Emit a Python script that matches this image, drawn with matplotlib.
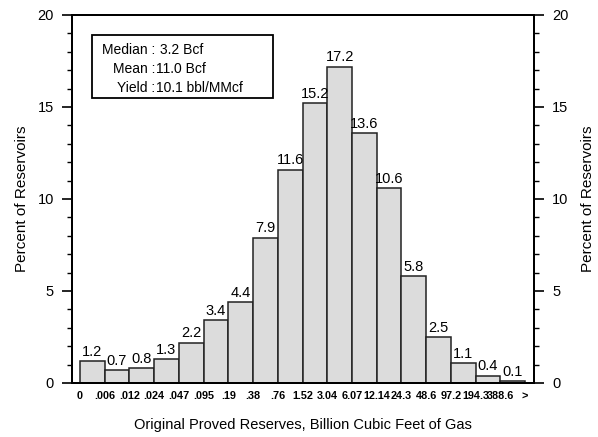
import matplotlib.pyplot as plt
from matplotlib.patches import Rectangle
from matplotlib.ticker import MultipleLocator
import numpy as np

plt.rcParams['font.family'] = ['Liberation Sans', 'DejaVu Sans']

# reservoir size class edges (Bcf) and percent of reservoirs per class
edges = ['0', '.006', '.012', '.024', '.047', '.095', '.19', '.38', '.76', '1.52',
         '3.04', '6.07', '12.14', '24.3', '48.6', '97.2', '194.3', '388.6', '>']
percent = [1.2, 0.7, 0.8, 1.3, 2.2, 3.4, 4.4, 7.9, 11.6, 15.2,
           17.2, 13.6, 10.6, 5.8, 2.5, 1.1, 0.4, 0.1]

stat_names = ['Median :', 'Mean :', 'Yield :']
stat_values = [' 3.2 Bcf', '11.0 Bcf', '10.1 bbl/MMcf']

fig = plt.figure(figsize=(5.98, 4.37), dpi=100)
ax = fig.add_axes([0.1204, 0.1236, 0.7726, 0.8421])

x = np.arange(len(percent))
ax.bar(x, percent, width=1.0, align='edge', color='#dcdcdc',
       edgecolor='#222222', linewidth=1.1)
for xi, p in zip(x, percent):
    ax.text(xi + 0.5, p + 0.12, f'{p:.1f}', ha='center', va='bottom', fontsize=10.5)

ax.set_xlim(-0.32, 18.36)
ax.set_ylim(0, 20)
ax.set_xticks(np.arange(len(edges)))
ax.set_xticklabels(edges, fontsize=7.8, fontweight='bold')
ax.tick_params(axis='x', length=0, pad=6)

ax.yaxis.set_major_locator(MultipleLocator(5))
ax.yaxis.set_minor_locator(MultipleLocator(1))
ax.tick_params(axis='y', which='major', length=7, width=1.2, labelsize=10.5, pad=6)
ax.tick_params(axis='y', which='minor', length=3.5, width=1.0)
ax.set_ylabel('Percent of Reservoirs', fontsize=11, labelpad=6)
ax.set_xlabel('Original Proved Reserves, Billion Cubic Feet of Gas', fontsize=10.5, labelpad=12)

for s in ax.spines.values():
    s.set_linewidth(1.4)

ax2 = ax.twinx()
ax2.set_ylim(0, 20)
ax2.yaxis.set_major_locator(MultipleLocator(5))
ax2.yaxis.set_minor_locator(MultipleLocator(1))
ax2.tick_params(axis='y', which='major', length=7, width=1.2, labelsize=10.5, pad=6)
ax2.tick_params(axis='y', which='minor', length=3.5, width=1.0)
ax2.set_ylabel('Percent of Reservoirs', fontsize=11, labelpad=9)
for s in ax2.spines.values():
    s.set_linewidth(1.4)

# summary statistics box
fig.add_artist(Rectangle((92 / 598, 1 - 98 / 437), 181 / 598, 63 / 437,
                         transform=fig.transFigure, fill=False,
                         edgecolor='black', linewidth=1.3))
for i, (n, v) in enumerate(zip(stat_names, stat_values)):
    yy = 1 - (50 + 19 * i) / 437
    fig.text(155 / 598, yy, n, ha='right', va='center', fontsize=10)
    fig.text(156 / 598, yy, v, ha='left', va='center', fontsize=10)

fig.savefig('out.png', dpi=100)
